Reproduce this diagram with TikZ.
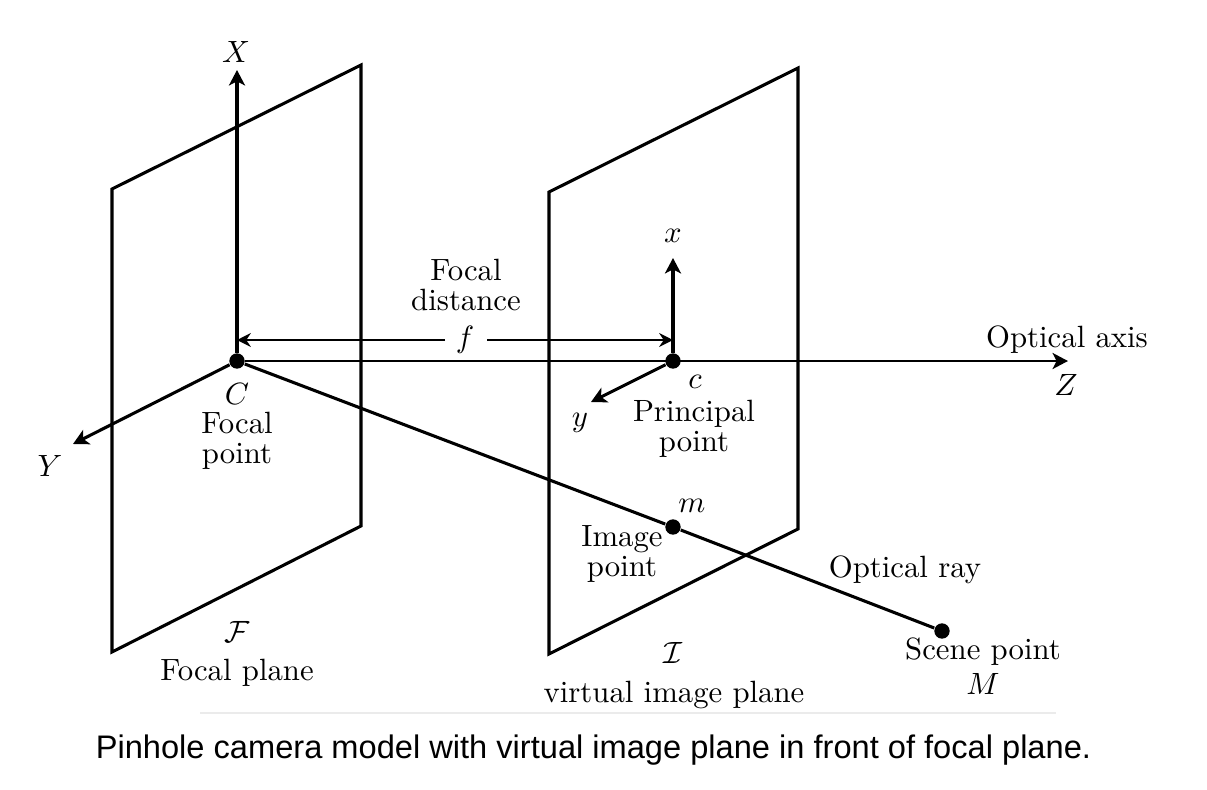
\documentclass[tikz,border=0pt]{standalone}
\usepackage{fontspec}
\usepackage{xcolor}
\newfontfamily\capfont{Liberation Sans}
\usetikzlibrary{positioning,arrows.meta}
\tikzset{
    planeline/.style={line width=1pt, line join=miter},
    axisline/.style={line width=1pt, -{Stealth[length=5pt,width=5.2pt,inset=1.3pt]}},
    rayline/.style={line width=1pt},
    dimline/.style={line width=0.6pt, -{Stealth[length=4.5pt,width=4.5pt,inset=1.5pt]}},
    pointdot/.style={circle, fill=black, inner sep=0pt, minimum size=5pt},
    lbl/.style={inner sep=0pt, align=center, font=\fontsize{10pt}{9.6pt}\selectfont}
}

\begin{document}
\begin{tikzpicture}[x=0.325pt, y=-0.325pt]
    \useasboundingbox (0,0) rectangle (1207,790);

    % Focal plane
    \draw[planeline] (112,189) -- (361,65) -- (361,526) -- (112,652) -- cycle;

    % Image plane
    \draw[planeline] (549,192) -- (798,68) -- (798,529) -- (549,654) -- cycle;

    % Points
    \node[pointdot] (C) at (237,361) {};
    \node[pointdot] (c) at (673,361) {};
    \node[pointdot] (m) at (673,527) {};
    \node[pointdot] (M) at (942,631) {};

    % Axis ends
    \coordinate (Xtip) at (237,70);
    \coordinate (Ytip) at (73,444);
    \coordinate (Ztip) at (1068,361);
    \coordinate (xtip) at (673,258);
    \coordinate (ytip) at (591,402);

    % Axes
    \draw[axisline] (C) -- (Xtip);
    \draw[axisline] (C) -- (Ytip);
    \draw[axisline, line width=0.9pt] (C) -- (Ztip);
    \draw[axisline] (c) -- (xtip);
    \draw[axisline] (c) -- (ytip);

    % Ray
    \draw[rayline] (C) -- (m);
    \draw[rayline] (m) -- (M);

    % Focal distance
    \coordinate (fleft) at (237,340);
    \coordinate (fright) at (673,340);
    \node[lbl] (fdist) at (465,340) {$f$};
    \node[lbl] (fname) at (466,285) {Focal\\distance};
    \draw[dimline] (445,340) coordinate (fa) -- (fleft);
    \draw[dimline] (487,340) coordinate (fb) -- (fright);

    % Axis labels
    \node[lbl] (Xlbl) at (236,52) {$X$};
    \node[lbl] (Ylbl) at (50,466) {$Y$};
    \node[lbl] (Zlbl) at (1066,385) {$Z$};
    \node[lbl] (xlbl) at (673,236) {$x$};
    \node[lbl] (ylbl) at (580,423) {$y$};

    % Point labels
    \node[lbl] (Clbl) at (237,394) {$C$};
    \node[lbl] (Cname) at (237,441) {Focal\\point};
    \node[lbl] (clbl) at (695,382) {$c$};
    \node[lbl] (cname) at (694,429) {Principal\\point};
    \node[lbl] (mlbl) at (692,506) {$m$};
    \node[lbl] (mname) at (622,554) {Image\\point};
    \node[lbl] (Mname) at (983,652) {Scene point};
    \node[lbl] (Mlbl) at (983,684) {$M$};

    % Other labels
    \node[lbl] (axisname) at (1067,340) {Optical axis};
    \node[lbl] (rayname) at (905,570) {Optical ray};
    \node[lbl] (Flbl) at (237,632) {$\mathcal{F}$};
    \node[lbl] (Fname) at (237,673) {Focal plane};
    \node[lbl] (Ilbl) at (673,653) {$\mathcal{I}$};
    \node[lbl] (Iname) at (674,695) {virtual image plane};

    % Caption
    \coordinate (ruleleft) at (200,713);
    \coordinate (ruleright) at (1056,713);
    \draw[black!8, line width=0.4pt] (ruleleft) -- (ruleright);
    \node[lbl] (caption) at (593.5,750) {\capfont\fontsize{10.6pt}{12pt}\selectfont Pinhole camera model with virtual image plane in front of focal plane.};
\end{tikzpicture}
\end{document}
